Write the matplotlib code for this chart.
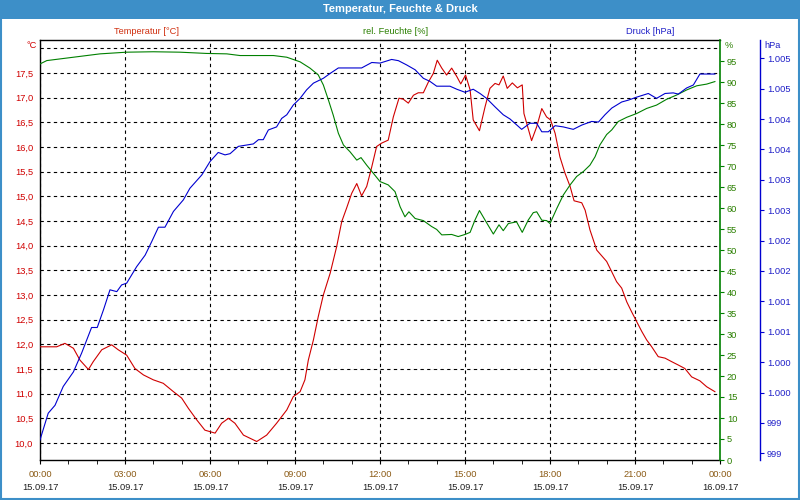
import matplotlib
matplotlib.use('Agg')
import matplotlib.pyplot as plt
import matplotlib.transforms as mtransforms
from matplotlib.patches import Rectangle
import numpy as np

plt.rcParams['font.family'] = ['Liberation Sans', 'DejaVu Sans']
plt.rcParams['font.size'] = 6.7

# ── Data (hours since 15.09.17 00:00) ───────────────────────────────────────
temp_h = [0.00, 0.59, 0.88, 1.18, 1.41, 1.71, 1.88, 2.18, 2.53, 2.76, 3.06, 3.35,
          3.65, 4.00, 4.35, 4.71, 5.00, 5.24, 5.53, 5.82, 6.18, 6.41, 6.65, 6.88,
          7.18, 7.65, 8.00, 8.35, 8.71, 8.94, 9.18, 9.35, 9.47, 9.65, 9.82, 10.00,
          10.24, 10.47, 10.65, 10.82, 11.00, 11.18, 11.35, 11.53, 11.71, 11.88,
          12.06, 12.29, 12.47, 12.67, 12.82, 13.00, 13.18, 13.35, 13.53, 13.71,
          13.88, 14.02, 14.18, 14.35, 14.53, 14.71, 14.85, 15.02, 15.18, 15.29,
          15.51, 15.71, 15.88, 16.06, 16.20, 16.35, 16.49, 16.67, 16.85, 17.02,
          17.08, 17.35, 17.53, 17.71, 17.88, 18.02, 18.18, 18.35, 18.53, 18.71,
          18.85, 19.12, 19.24, 19.41, 19.65, 20.00, 20.18, 20.35, 20.53, 20.71,
          20.88, 21.06, 21.24, 21.41, 21.59, 21.82, 22.06, 22.29, 22.53, 22.76,
          23.00, 23.29, 23.53, 23.82]
temp_v = [11.95, 11.95, 12.02, 11.92, 11.68, 11.49, 11.65, 11.89, 11.99, 11.89, 11.78, 11.51,
          11.38, 11.28, 11.21, 11.04, 10.91, 10.70, 10.47, 10.26, 10.20, 10.40, 10.50, 10.40,
          10.16, 10.03, 10.16, 10.40, 10.67, 10.94, 11.04, 11.28, 11.68, 12.09, 12.56, 13.00,
          13.44, 13.98, 14.49, 14.76, 15.06, 15.26, 15.01, 15.20, 15.60, 16.01,
          16.08, 16.14, 16.61, 16.99, 16.97, 16.89, 17.05, 17.10, 17.10, 17.32,
          17.49, 17.76, 17.60, 17.46, 17.60, 17.43, 17.28, 17.46, 17.16, 16.55,
          16.33, 16.82, 17.19, 17.29, 17.26, 17.44, 17.19, 17.30, 17.20, 17.26,
          16.68, 16.13, 16.41, 16.78, 16.61, 16.55, 16.28, 15.80, 15.47, 15.20,
          14.91, 14.87, 14.72, 14.32, 13.91, 13.68, 13.47, 13.27, 13.14, 12.86,
          12.66, 12.46, 12.26, 12.09, 11.95, 11.75, 11.72, 11.65, 11.58, 11.51,
          11.34, 11.26, 11.14, 11.04]

hum_h = [0.00, 0.24, 1.18, 2.12, 3.06, 4.00, 4.94, 5.88, 6.59, 7.06, 8.24, 8.71,
         9.18, 9.53, 9.82, 10.00, 10.18, 10.35, 10.53, 10.71, 10.94, 11.18, 11.33,
         11.53, 11.76, 12.00, 12.29, 12.53, 12.71, 12.88, 13.02, 13.24, 13.53, 13.82,
         14.00, 14.18, 14.53, 14.76, 15.00, 15.18, 15.35, 15.51, 15.71, 16.00, 16.20,
         16.35, 16.53, 16.82, 17.02, 17.23, 17.41, 17.53, 17.71, 17.88, 18.00, 18.24,
         18.47, 18.71, 18.94, 19.18, 19.41, 19.59, 19.76, 20.00, 20.18, 20.41, 20.71,
         21.06, 21.41, 21.76, 22.12, 22.47, 22.82, 23.18, 23.53, 23.82]
hum_v = [94.3, 95.1, 95.9, 96.7, 97.1, 97.2, 97.1, 96.8, 96.7, 96.3, 96.3, 95.9,
         94.8, 93.3, 91.7, 89.3, 85.7, 82.1, 77.8, 75.0, 73.4, 71.4, 72.0,
         70.2, 68.3, 66.3, 65.5, 63.9, 60.3, 57.9, 59.1, 57.5, 57.0, 55.6,
         54.9, 53.6, 53.7, 53.2, 53.7, 54.2, 57.1, 59.4, 57.1, 53.8, 56.0,
         54.6, 56.3, 56.7, 54.2, 57.1, 58.9, 59.1, 57.1, 57.0, 56.3, 59.9,
         63.1, 65.5, 67.5, 68.7, 70.2, 72.2, 75.0, 77.5, 78.6, 80.6, 81.6,
         82.5, 83.7, 84.5, 85.9, 86.9, 88.1, 89.1, 89.5, 90.1]

pres_h = [0.00, 0.29, 0.53, 0.82, 1.18, 1.47, 1.82, 2.02, 2.24, 2.47, 2.71, 2.88,
          3.06, 3.41, 3.71, 3.94, 4.18, 4.41, 4.71, 5.06, 5.29, 5.71, 6.00, 6.29,
          6.53, 6.71, 7.00, 7.53, 7.71, 7.88, 8.06, 8.35, 8.53, 8.71, 8.94, 9.18,
          9.41, 9.65, 10.00, 10.24, 10.53, 11.35, 11.71, 12.00, 12.41, 12.65, 12.94,
          13.24, 13.53, 13.76, 14.00, 14.47, 14.71, 15.00, 15.29, 15.53, 15.76, 16.06,
          16.35, 16.59, 17.00, 17.29, 17.53, 17.71, 17.94, 18.18, 18.47, 18.82, 19.12,
          19.47, 19.71, 19.94, 20.18, 20.53, 20.76, 21.06, 21.47, 21.76, 22.06, 22.35,
          22.53, 22.82, 23.06, 23.29, 23.82]
pres_v = [998.72, 999.16, 999.29, 999.60, 999.84, 1000.15, 1000.57, 1000.57, 1000.86, 1001.19, 1001.16, 1001.27,
          1001.30, 1001.57, 1001.76, 1001.98, 1002.22, 1002.22, 1002.48, 1002.67, 1002.86, 1003.08, 1003.30, 1003.45,
          1003.41, 1003.43, 1003.55, 1003.59, 1003.66, 1003.66, 1003.82, 1003.87, 1004.01, 1004.07, 1004.23, 1004.34,
          1004.48, 1004.59, 1004.67, 1004.75, 1004.84, 1004.84, 1004.93, 1004.92, 1004.98, 1004.96, 1004.89,
          1004.81, 1004.67, 1004.62, 1004.54, 1004.54, 1004.49, 1004.44, 1004.49, 1004.42, 1004.34, 1004.20,
          1004.07, 1004.00, 1003.83, 1003.93, 1003.93, 1003.79, 1003.79, 1003.89, 1003.87, 1003.83, 1003.90,
          1003.96, 1003.95, 1004.07, 1004.18, 1004.28, 1004.31, 1004.36, 1004.42, 1004.34, 1004.42, 1004.43,
          1004.41, 1004.51, 1004.56, 1004.74, 1004.74]

x_ticks = [0, 3, 6, 9, 12, 15, 18, 21, 24]
time_labels = ['00:00', '03:00', '06:00', '09:00', '12:00', '15:00', '18:00', '21:00', '00:00']
date_labels = ['15.09.17'] * 8 + ['16.09.17']

# ── Colours ──────────────────────────────────────────────────────────────────
C_BAR   = "#3d8fc8"
C_RED   = "#d00000"
C_GREEN = "#008000"
C_GTXT  = "#2a7f00"
C_BLUE  = "#0000d0"
C_BTXT  = "#2020c8"
C_TIME  = "#8b5a14"

fig = plt.figure(figsize=(8, 5), dpi=100)
fig.patch.set_facecolor('white')

# title bar + frame
fig.patches.append(Rectangle((0, 1 - 19 / 500), 1, 19 / 500, transform=fig.transFigure,
                             facecolor=C_BAR, edgecolor='none', zorder=0))
fig.patches.append(Rectangle((0.001, 0.002), 0.998, 0.996, transform=fig.transFigure,
                             fill=False, edgecolor=C_BAR, lw=1.5, zorder=0))
fig.text(0.5, 1 - 9.5 / 500, 'Temperatur, Feuchte & Druck', color='white',
         fontsize=8, fontweight='bold', ha='center', va='center')

# series headers
fig.text(146 / 800, 1 - 31 / 500, 'Temperatur [°C]', color="#d03010", ha='center', va='center')
fig.text(396 / 800, 1 - 31 / 500, 'rel. Feuchte [%]', color=C_GTXT, ha='center', va='center')
fig.text(650 / 800, 1 - 31 / 500, 'Druck [hPa]', color=C_BTXT, ha='center', va='center')
fig.text(37 / 800, 1 - 45 / 500, '°C', color=C_RED, ha='right', va='center')
fig.text(725 / 800, 1 - 45 / 500, '%', color=C_GTXT, ha='left', va='center')
fig.text(764 / 800, 1 - 45 / 500, 'hPa', color=C_BTXT, ha='left', va='center')

ax = fig.add_axes([40 / 800, 40 / 500, 680 / 800, 420 / 500])
ax_h = ax.twinx()
ax_p = ax.twinx()

# ── Temperature (host) ───────────────────────────────────────────────────────
ax.plot(temp_h, temp_v, color=C_RED, lw=0.8, zorder=3)
ax.set_xlim(0, 24)
ax.set_ylim(9.655, 18.17)
t_ticks = np.arange(10.0, 18.01, 0.5)
ax.set_yticks(t_ticks)
ax.set_yticklabels([f'{v:.1f}'.replace('.', ',') if v < 17.9 else '' for v in t_ticks])
ax.tick_params(axis='y', length=0, pad=5, colors=C_RED)
ax.set_xticks(x_ticks)
ax.set_xticks(range(0, 25), minor=True)
ax.set_xticklabels(time_labels, color=C_TIME)
ax.tick_params(axis='x', which='both', direction='out', length=3, pad=4, color='black')
ax.grid(True, which='major', color='black', linestyle=(0, (3, 3)), lw=0.8)
for s in ['left', 'top', 'bottom']:
    ax.spines[s].set_color('black')
    ax.spines[s].set_linewidth(1.0)
ax.spines['right'].set_visible(False)

trans = mtransforms.blended_transform_factory(ax.transData, ax.transAxes)
for xv, d in zip(x_ticks, date_labels):
    ax.text(xv, -28 / 420, d, transform=trans, ha='center', va='center', color='#202020')

# ── Humidity ─────────────────────────────────────────────────────────────────
ax_h.plot(hum_h, hum_v, color=C_GREEN, lw=0.8)
ax_h.set_ylim(0, 100)
ax_h.set_yticks(np.arange(0, 96, 5))
ax_h.tick_params(axis='y', direction='out', length=3, pad=2, colors=C_GTXT)
ax_h.tick_params(axis='y', color=C_GREEN)
ax_h.spines['right'].set_color(C_GREEN)
ax_h.spines['right'].set_linewidth(1.2)
for s in ['left', 'top', 'bottom']:
    ax_h.spines[s].set_visible(False)

# ── Pressure ─────────────────────────────────────────────────────────────────
ax_p.plot(pres_h, pres_v, color=C_BLUE, lw=0.8)
ax_p.set_ylim(998.39, 1005.30)
p_ticks = np.arange(998.5, 1005.01, 0.5)
ax_p.set_yticks(p_ticks)

def p_fmt(v):
    n = int(np.floor(v + 0.5))
    return f'{n:,}'.replace(',', '.')

ax_p.set_yticklabels([p_fmt(v) for v in p_ticks])
ax_p.spines['right'].set_position(('axes', 720 / 680))
ax_p.spines['right'].set_color(C_BLUE)
ax_p.spines['right'].set_linewidth(1.0)
ax_p.tick_params(axis='y', direction='out', length=3, pad=2, colors=C_BTXT)
ax_p.tick_params(axis='y', color=C_BLUE)
for s in ['left', 'top', 'bottom']:
    ax_p.spines[s].set_visible(False)

fig.savefig('out.png', dpi=100, facecolor='white')
plt.close()
